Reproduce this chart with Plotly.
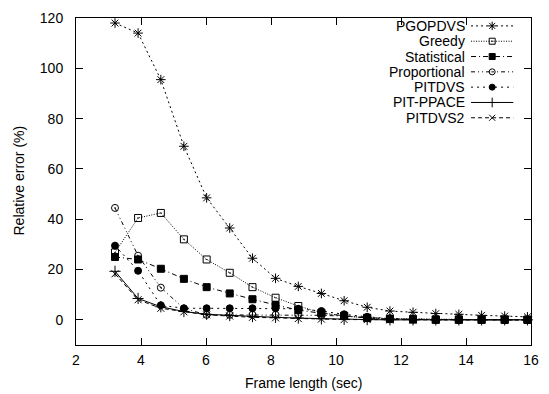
import plotly.graph_objects as go

# ---- data ----
frame_length = [3.2, 3.91, 4.61, 5.32, 6.02, 6.73, 7.43, 8.14, 8.84, 9.55,
                10.25, 10.96, 11.66, 12.37, 13.07, 13.78, 14.48, 15.19, 15.89]
pgopdvs = [118, 114, 95.5, 69, 48.5, 36.5, 24.5, 16.5, 13.3, 10.5,
           7.6, 5.0, 3.5, 3.0, 2.5, 2.2, 1.8, 1.5, 1.2]
greedy = [26.8, 40.5, 42.5, 32, 24, 18.7, 13, 8.8, 5.5, 2.8,
          1.5, 0.8, 0.5, 0.3, 0.2, 0.2, 0.1, 0.1, 0.1]
statistical = [25, 24, 20.3, 16.3, 13, 10.5, 8.2, 5.9, 3.9, 2.6,
               1.6, 0.7, 0.3, 0.1, 0, 0, 0, 0, 0]
proportional = [44.5, 25.5, 12.8, 4.5, 2.0, 2.0, 2.0, 2.0, 2.0, 1.8,
                1.5, 0.8, 0.4, 0.2, 0.1, 0, 0, 0, 0]
pitdvs = [29.5, 19.5, 5.8, 4.6, 4.6, 4.6, 4.6, 4.6, 4.4, 3.5,
          2.2, 1.2, 0.5, 0.2, 0.1, 0, 0, 0, 0]
pit_ppace = [19.3, 8.5, 5.2, 3.3, 2.2, 1.7, 1.3, 1.0, 0.7, 0.4,
             0.2, 0.1, 0, 0, 0, 0, 0, 0, 0]
pitdvs2 = [18.3, 8.0, 4.6, 3.2, 2.0, 1.5, 1.0, 0.8, 0.5, 0.3,
           0.1, 0.1, 0, 0, 0, 0, 0, 0, 0]

x_ticks = [2, 4, 6, 8, 10, 12, 14, 16]
y_ticks = [0, 20, 40, 60, 80, 100, 120]

series = [
    ("PGOPDVS", pgopdvs, "asterisk-open", 8, "2px,3px"),
    ("Greedy", greedy, "square-open-dot", 7, "1px,1.5px"),
    ("Statistical", statistical, "square", 7, "5px,3px,1px,3px"),
    ("Proportional", proportional, "circle-open-dot", 7, "4px,3px,1px,3px,1px,3px"),
    ("PITDVS", pitdvs, "circle", 7, "2px,4px"),
    ("PIT-PPACE", pit_ppace, "cross-thin-open", 8, "solid"),
    ("PITDVS2", pitdvs2, "x-thin-open", 7, "4px,3px"),
]

W, H = 549, 394
L, R, T, B = 76, 539, 14, 345
FONT = "Liberation Sans, Arial, sans-serif"
FS = 14
INK = "#000000"

fig = go.Figure()
for name, ys, sym, size, dash in series:
    fig.add_trace(go.Scatter(
        x=frame_length, y=ys, mode="lines+markers", name=name,
        line=dict(color=INK, width=1, dash=dash),
        marker=dict(symbol=sym, size=size, color=INK,
                    line=dict(color=INK, width=1)),
        showlegend=False, cliponaxis=False,
    ))

# ---- custom legend (text left of sample, gnuplot style) ----
row_y0, row_step = 22, 15.5
text_right, samp_l, samp_r = 474, 478, 521
for i, (name, ys, sym, size, dash) in enumerate(series):
    py = row_y0 + i * row_step
    fig.add_trace(go.Scatter(
        x=[samp_l, samp_r], y=[py, py], mode="lines", xaxis="x2", yaxis="y2",
        line=dict(color=INK, width=1, dash=dash), showlegend=False,
        hoverinfo="skip"))
    fig.add_trace(go.Scatter(
        x=[(samp_l + samp_r) / 2], y=[py], mode="markers", xaxis="x2", yaxis="y2",
        marker=dict(symbol=sym, size=size - 1, color=INK, line=dict(color=INK, width=1)),
        showlegend=False, hoverinfo="skip"))
    fig.add_annotation(x=text_right, y=py, xref="x2", yref="y2", text=name,
                       showarrow=False, xanchor="right", yanchor="middle",
                       font=dict(family=FONT, size=FS, color=INK))

axis_common = dict(showline=True, linecolor=INK, linewidth=1, mirror="ticks",
                   ticks="inside", ticklen=7, tickcolor=INK, showgrid=False,
                   zeroline=False, tickfont=dict(family=FONT, size=FS, color=INK))

fig.update_layout(
    width=W, height=H,
    margin=dict(l=L, r=W - R, t=T, b=H - B, pad=0),
    paper_bgcolor="white", plot_bgcolor="white",
    font=dict(family=FONT, size=FS, color=INK),
    xaxis=dict(range=[2, 16], tickvals=x_ticks, ticklabelstandoff=2, **axis_common),
    yaxis=dict(range=[-10, 120], tickvals=y_ticks, ticklabelstandoff=9, **axis_common),
    xaxis2=dict(range=[L, R], overlaying="x", visible=False, fixedrange=True),
    yaxis2=dict(range=[B, T], overlaying="y", visible=False, fixedrange=True),
)

fig.add_annotation(x=(307 - L) / (R - L), y=(B - 383) / (B - T), xref="paper", yref="paper",
                   text="Frame length (sec)", showarrow=False, xanchor="center",
                   yanchor="middle", font=dict(family=FONT, size=FS, color=INK))
fig.add_annotation(x=(17.5 - L) / (R - L), y=(B - 179) / (B - T), xref="paper", yref="paper",
                   text="Relative error (%)", showarrow=False, textangle=-90,
                   xanchor="center", yanchor="middle",
                   font=dict(family=FONT, size=FS, color=INK))

fig.write_html("out.html")
